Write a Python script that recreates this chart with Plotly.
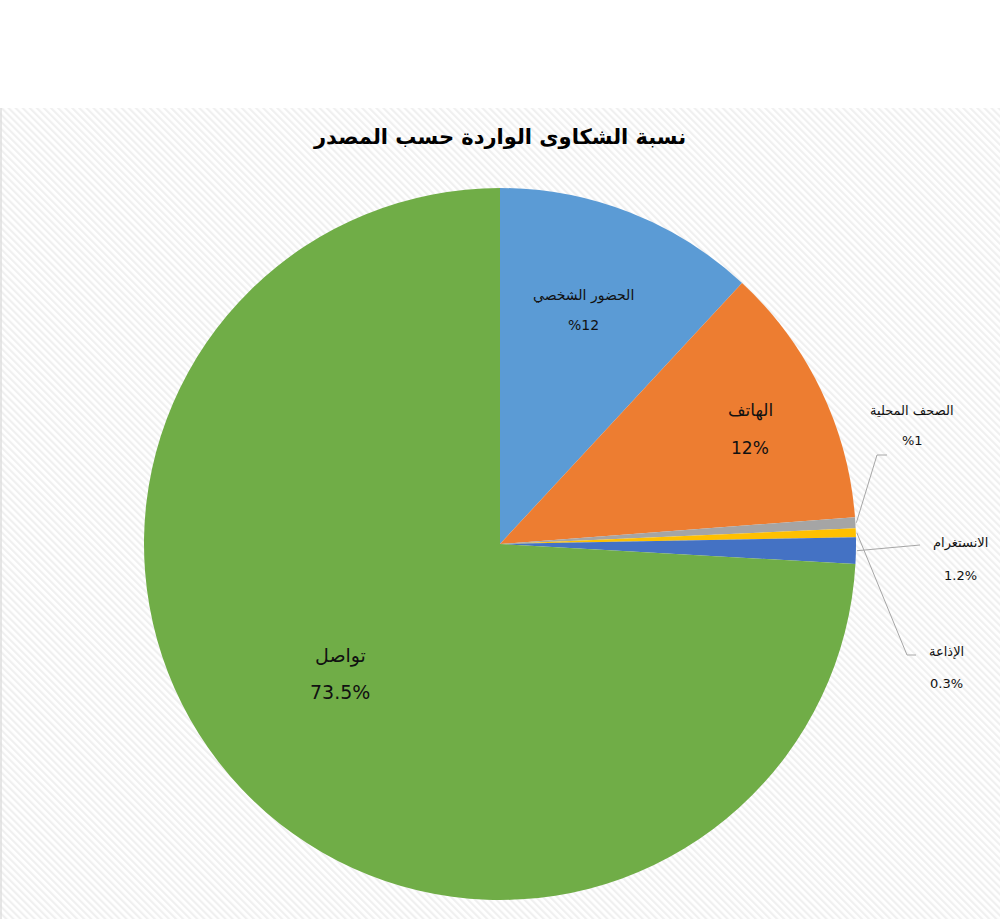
import base64, math
import plotly.graph_objects as go

# ---- data ----
categories = ["الحضور الشخصي", "الهاتف", "الصحف المحلية", "الإذاعة", "الانستغرام", "تواصل"]
values = [11.9, 11.9, 0.5, 0.4, 1.2, 74.1]
pct_labels = ["%12", "12%", "%1", "0.3%", "1.2%", "73.5%"]
colors = ["#5B9BD5", "#ED7D31", "#A5A5A5", "#FFC000", "#4472C4", "#70AD47"]
title_text = "نسبة الشكاوى الواردة حسب المصدر"

W, H = 1000, 919
CX, CY, R = 500, 544, 356

def px2paper(x, y):
    return x / W, 1 - y / H

# hatched background as an inline SVG image
svg = ("<svg xmlns='http://www.w3.org/2000/svg' width='1000' height='811'>"
       "<defs><pattern id='p' width='5' height='5' patternUnits='userSpaceOnUse' patternTransform='rotate(-45)'>"
       "<rect width='5' height='5' fill='#ffffff'/><rect width='2.2' height='5' fill='#f0f0f0'/></pattern></defs>"
       "<rect width='1000' height='811' fill='url(#p)'/>"
       "<line x1='1' y1='0' x2='1' y2='811' stroke='#dedede' stroke-width='1.5'/></svg>")
img_src = "data:image/svg+xml;base64," + base64.b64encode(svg.encode()).decode()

fig = go.Figure()
fig.add_trace(go.Pie(
    labels=categories, values=values, sort=False, direction="clockwise", rotation=0,
    marker=dict(colors=colors, line=dict(width=0)),
    textinfo="none", hoverinfo="label+percent", showlegend=False,
    domain=dict(x=[(CX - R) / W, (CX + R) / W], y=[(H - CY - R) / H, (H - CY + R) / H]),
))

# slice mid-angles (clockwise from 12 o'clock)
total = sum(values)
mids = []
acc = 0
for v in values:
    mids.append((acc + v / 2) / total * 360)
    acc += v

def polar(deg, r):
    a = math.radians(deg)
    return CX + r * math.sin(a), CY - r * math.cos(a)

annotations = []
shapes = []

def add_label(name, pct, x, y, gap, size, bold=False):
    nx, ny = px2paper(x, y)
    _, py_ = px2paper(x, y + gap)
    for t, yy in ((name, ny), (pct, py_)):
        annotations.append(dict(text=(f"<b>{t}</b>" if bold else t), x=nx, y=yy,
                                xref="paper", yref="paper",
                                showarrow=False, xanchor="center", yanchor="middle",
                                font=dict(family="DejaVu Sans", size=size, color="#111111")))

# inside labels
add_label(categories[0], pct_labels[0], 583, 295, 30, 14)
add_label(categories[1], pct_labels[1], 750, 410, 38, 17)
add_label(categories[5], pct_labels[5], 340, 655, 37, 19)

# outside labels with leader lines
add_label(categories[2], pct_labels[2], 912, 410, 30, 13)
add_label(categories[4], pct_labels[4], 960, 543, 32, 13)
add_label(categories[3], pct_labels[3], 946, 651, 32, 13)

line_style = dict(color="#a6a6a6", width=1)
leaders = [  # (slice index, elbow point, end point)
    (2, (877, 455), (887, 455)),
    (4, (920, 545), (920, 545)),
    (3, (907, 655), (916, 655)),
]
for idx, elbow, end in leaders:
    ax, ay = polar(mids[idx], R + 1)
    pts = [(ax, ay), elbow, end]
    for (x0, y0), (x1, y1) in zip(pts[:-1], pts[1:]):
        if (x0, y0) == (x1, y1):
            continue
        a0 = px2paper(x0, y0); a1 = px2paper(x1, y1)
        shapes.append(dict(type="line", xref="paper", yref="paper",
                           x0=a0[0], y0=a0[1], x1=a1[0], y1=a1[1], line=line_style))

fig.update_layout(
    width=W, height=H, margin=dict(l=0, r=0, t=0, b=0),
    paper_bgcolor="#ffffff", plot_bgcolor="#ffffff",
    title=dict(text=f"<b>{title_text}</b>", x=0.5, xanchor="center", y=1 - 137 / H, yanchor="middle",
               font=dict(family="DejaVu Sans", size=21, color="#000000")),
    images=[dict(source=img_src, xref="paper", yref="paper", x=0, y=1 - 108 / H,
                 sizex=1, sizey=(H - 108) / H, xanchor="left", yanchor="top",
                 sizing="stretch", layer="below")],
    annotations=annotations, shapes=shapes,
)

fig.write_html("out.html")
